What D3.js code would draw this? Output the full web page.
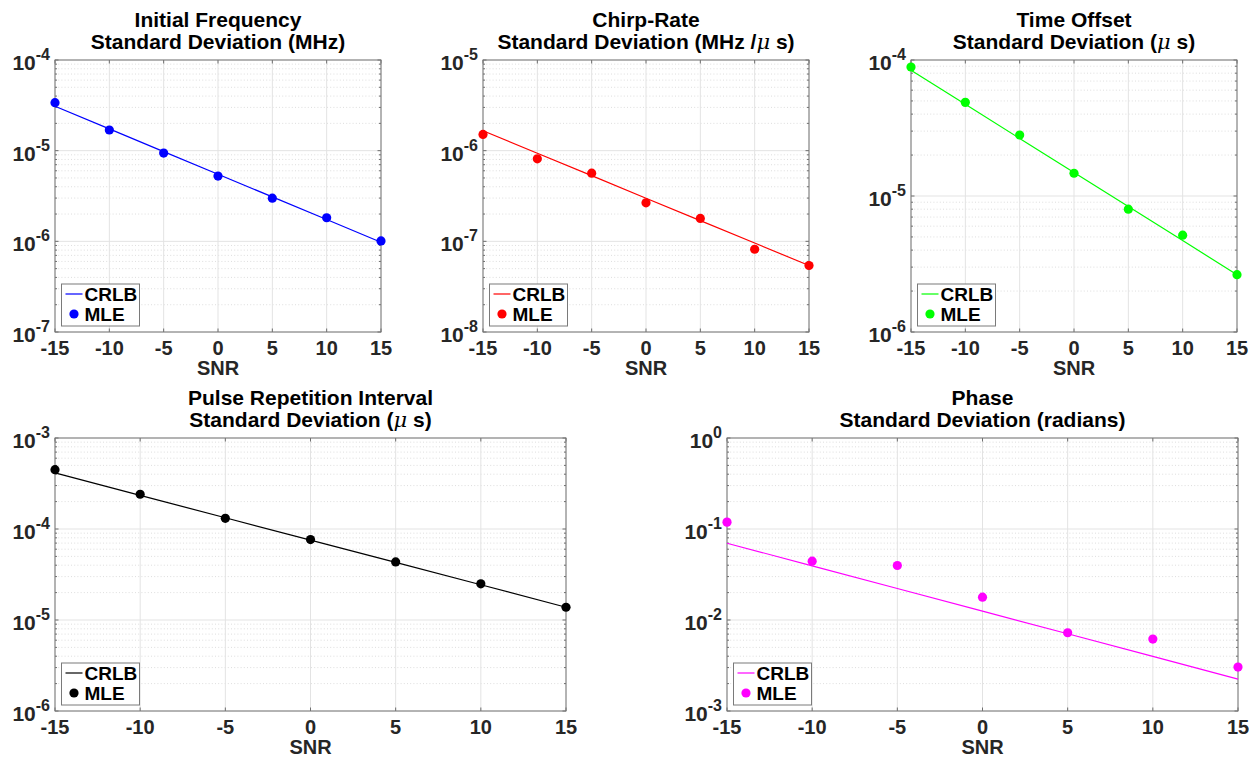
<!DOCTYPE html>
<html>
<head>
<meta charset="utf-8">
<script src="https://cdn.jsdelivr.net/npm/d3@7"></script>
<style>
  html, body { margin: 0; padding: 0; background: #fff; }
  svg { display: block; font-family: "Liberation Sans", Arial, Helvetica, sans-serif; }
</style>
</head>
<body>
<svg id="fig" width="1256" height="758"></svg>
<script>
// SNR values (dB) shared by every panel
const snr = [-15, -10, -5, 0, 5, 10, 15];
const xTicks = [-15, -10, -5, 0, 5, 10, 15];

// Initial frequency standard deviation (MHz)
const freqCRLB = [3.09e-5, 1.74e-5, 9.77e-6, 5.50e-6, 3.09e-6, 1.74e-6, 9.77e-7];
const freqMLE  = [3.38e-5, 1.69e-5, 9.4e-6, 5.24e-6, 2.99e-6, 1.82e-6, 1.01e-6];

// Chirp-rate standard deviation (MHz/us)
const chirpCRLB = [1.66e-6, 9.38e-7, 5.30e-7, 2.99e-7, 1.69e-7, 9.57e-8, 5.41e-8];
const chirpMLE  = [1.51e-6, 8.13e-7, 5.65e-7, 2.66e-7, 1.79e-7, 8.18e-8, 5.41e-8];

// Time offset standard deviation (us)
const timeCRLB = [8.41e-5, 4.72e-5, 2.65e-5, 1.49e-5, 8.36e-6, 4.70e-6, 2.64e-6];
const timeMLE  = [8.88e-5, 4.88e-5, 2.81e-5, 1.47e-5, 8.0e-6, 5.15e-6, 2.64e-6];

// Pulse repetition interval standard deviation (us)
const priCRLB = [4.13e-4, 2.34e-4, 1.33e-4, 7.55e-5, 4.30e-5, 2.44e-5, 1.38e-5];
const priMLE  = [4.49e-4, 2.41e-4, 1.31e-4, 7.66e-5, 4.35e-5, 2.50e-5, 1.38e-5];

// Phase standard deviation (radians)
const phaseCRLB = [0.0698, 0.0394, 0.0222, 0.0125, 0.00706, 0.00398, 0.00224];
const phaseMLE  = [0.119, 0.0443, 0.0397, 0.0178, 0.00724, 0.00617, 0.00304];

// y-axis decade exponents per panel
const freqDecades  = [-7, -6, -5, -4];
const chirpDecades = [-8, -7, -6, -5];
const timeDecades  = [-6, -5, -4];
const priDecades   = [-6, -5, -4, -3];
const phaseDecades = [-3, -2, -1, 0];

const legendLabels = ["CRLB", "MLE"];
const xLabel = "SNR";

const svg = d3.select("#fig");
const AXIS = "#262626";

function drawPanel(p) {
  const g = svg.append("g");
  const x = d3.scaleLinear().domain([-15, 15]).range([p.left, p.right]);
  const lo = Math.pow(10, d3.min(p.decades)), hi = Math.pow(10, d3.max(p.decades));
  const y = d3.scaleLog().domain([lo, hi]).range([p.bottom, p.top]);

  // minor grid (2..9 within each decade)
  const minors = [];
  for (let e = d3.min(p.decades); e < d3.max(p.decades); e++) {
    for (let m = 2; m <= 9; m++) minors.push(m * Math.pow(10, e));
  }
  g.selectAll(".minor").data(minors).join("line")
    .attr("x1", p.left).attr("x2", p.right)
    .attr("y1", d => y(d)).attr("y2", d => y(d))
    .attr("stroke", "#d6d6d6").attr("stroke-width", 0.8)
    .attr("stroke-dasharray", "1,2.2");

  // major grid
  const majors = p.decades.map(e => Math.pow(10, e));
  g.selectAll(".gy").data(majors).join("line")
    .attr("x1", p.left).attr("x2", p.right)
    .attr("y1", d => y(d)).attr("y2", d => y(d))
    .attr("stroke", "#e3e3e3").attr("stroke-width", 1);
  g.selectAll(".gx").data(xTicks).join("line")
    .attr("x1", d => x(d)).attr("x2", d => x(d))
    .attr("y1", p.top).attr("y2", p.bottom)
    .attr("stroke", "#e3e3e3").attr("stroke-width", 1);

  // inward tick marks on all four sides
  const tk = g.append("g").attr("stroke", "#6e6e6e").attr("stroke-width", 1);
  xTicks.forEach(t => {
    tk.append("line").attr("x1", x(t)).attr("x2", x(t)).attr("y1", p.bottom).attr("y2", p.bottom - 3.5);
    tk.append("line").attr("x1", x(t)).attr("x2", x(t)).attr("y1", p.top).attr("y2", p.top + 3.5);
  });
  majors.forEach(v => {
    tk.append("line").attr("x1", p.left).attr("x2", p.left + 3.5).attr("y1", y(v)).attr("y2", y(v));
    tk.append("line").attr("x1", p.right).attr("x2", p.right - 3.5).attr("y1", y(v)).attr("y2", y(v));
  });
  minors.forEach(v => {
    tk.append("line").attr("x1", p.left).attr("x2", p.left + 2).attr("y1", y(v)).attr("y2", y(v));
    tk.append("line").attr("x1", p.right).attr("x2", p.right - 2).attr("y1", y(v)).attr("y2", y(v));
  });

  // axes box
  g.append("rect")
    .attr("x", p.left).attr("y", p.top)
    .attr("width", p.right - p.left).attr("height", p.bottom - p.top)
    .attr("fill", "none").attr("stroke", "#767676").attr("stroke-width", 1);

  // x tick labels
  g.selectAll(".xl").data(xTicks).join("text")
    .attr("x", d => x(d)).attr("y", p.bottom + 23)
    .attr("text-anchor", "middle")
    .attr("font-size", 20).attr("font-weight", "bold").attr("fill", AXIS)
    .text(d => d);

  // y tick labels as 10^e
  p.decades.forEach(e => {
    const t = g.append("text")
      .attr("x", p.left - 5).attr("y", y(Math.pow(10, e)) + 10)
      .attr("text-anchor", "end")
      .attr("font-weight", "bold").attr("fill", AXIS);
    t.append("tspan").attr("font-size", 21).text("10");
    t.append("tspan").attr("font-size", 16).attr("dy", -10).text(e);
  });

  // x axis label
  g.append("text")
    .attr("x", (p.left + p.right) / 2).attr("y", p.bottom + 43)
    .attr("text-anchor", "middle")
    .attr("font-size", 20).attr("font-weight", "bold").attr("fill", AXIS)
    .text(xLabel);

  // title, two lines
  const cx = (p.left + p.right) / 2;
  g.append("text")
    .attr("x", cx).attr("y", p.top - 33)
    .attr("text-anchor", "middle").attr("font-size", 21).attr("font-weight", "bold").attr("fill", "#000")
    .text(p.title1);
  const t2 = g.append("text")
    .attr("x", cx).attr("y", p.top - 11)
    .attr("text-anchor", "middle").attr("font-size", 21).attr("font-weight", "bold").attr("fill", "#000");
  p.title2.forEach(part => {
    const s = t2.append("tspan").text(part.t);
    if (part.mu) s.attr("font-style", "italic").attr("font-weight", "normal")
      .attr("font-family", "'DejaVu Serif', 'Liberation Serif', serif");
  });

  // CRLB line
  const line = d3.line().x((d, i) => x(snr[i])).y(d => y(d));
  g.append("path").datum(p.crlb)
    .attr("d", line).attr("fill", "none")
    .attr("stroke", p.color).attr("stroke-width", 1.2);

  // MLE markers
  g.selectAll(".pt").data(p.mle).join("circle")
    .attr("cx", (d, i) => x(snr[i])).attr("cy", d => y(d))
    .attr("r", 4.6).attr("fill", p.color);

  // legend
  const lx = p.left + 6.5, ly = p.bottom - 48;
  const lg = g.append("g");
  lg.append("rect").attr("x", lx).attr("y", ly).attr("width", 78).attr("height", 42)
    .attr("fill", "#fff").attr("stroke", "#7a7a7a").attr("stroke-width", 1);
  lg.append("line").attr("x1", lx + 4).attr("x2", lx + 21).attr("y1", ly + 10).attr("y2", ly + 10)
    .attr("stroke", p.color).attr("stroke-width", 1.2);
  lg.append("circle").attr("cx", lx + 12.5).attr("cy", ly + 30).attr("r", 4.6).attr("fill", p.color);
  lg.append("text").attr("x", lx + 23).attr("y", ly + 17)
    .attr("font-size", 19).attr("font-weight", "bold").attr("fill", "#000").text(legendLabels[0]);
  lg.append("text").attr("x", lx + 23).attr("y", ly + 37)
    .attr("font-size", 19).attr("font-weight", "bold").attr("fill", "#000").text(legendLabels[1]);
}

const panels = [
  { left: 55, right: 381, top: 60, bottom: 332, decades: freqDecades, crlb: freqCRLB, mle: freqMLE,
    color: "#0000ff", title1: "Initial Frequency", title2: [{ t: "Standard Deviation (MHz)" }] },
  { left: 483, right: 809, top: 60, bottom: 332, decades: chirpDecades, crlb: chirpCRLB, mle: chirpMLE,
    color: "#ff0000", title1: "Chirp-Rate",
    title2: [{ t: "Standard Deviation (MHz /" }, { t: "μ", mu: true }, { t: " s)" }] },
  { left: 911, right: 1237, top: 60, bottom: 332, decades: timeDecades, crlb: timeCRLB, mle: timeMLE,
    color: "#00ff00", title1: "Time Offset",
    title2: [{ t: "Standard Deviation (" }, { t: "μ", mu: true }, { t: " s)" }] },
  { left: 55, right: 566, top: 438, bottom: 711, decades: priDecades, crlb: priCRLB, mle: priMLE,
    color: "#000000", title1: "Pulse Repetition Interval",
    title2: [{ t: "Standard Deviation (" }, { t: "μ", mu: true }, { t: " s)" }] },
  { left: 727, right: 1238, top: 438, bottom: 711, decades: phaseDecades, crlb: phaseCRLB, mle: phaseMLE,
    color: "#ff00ff", title1: "Phase", title2: [{ t: "Standard Deviation (radians)" }] }
];

panels.forEach(drawPanel);
</script>
</body>
</html>
